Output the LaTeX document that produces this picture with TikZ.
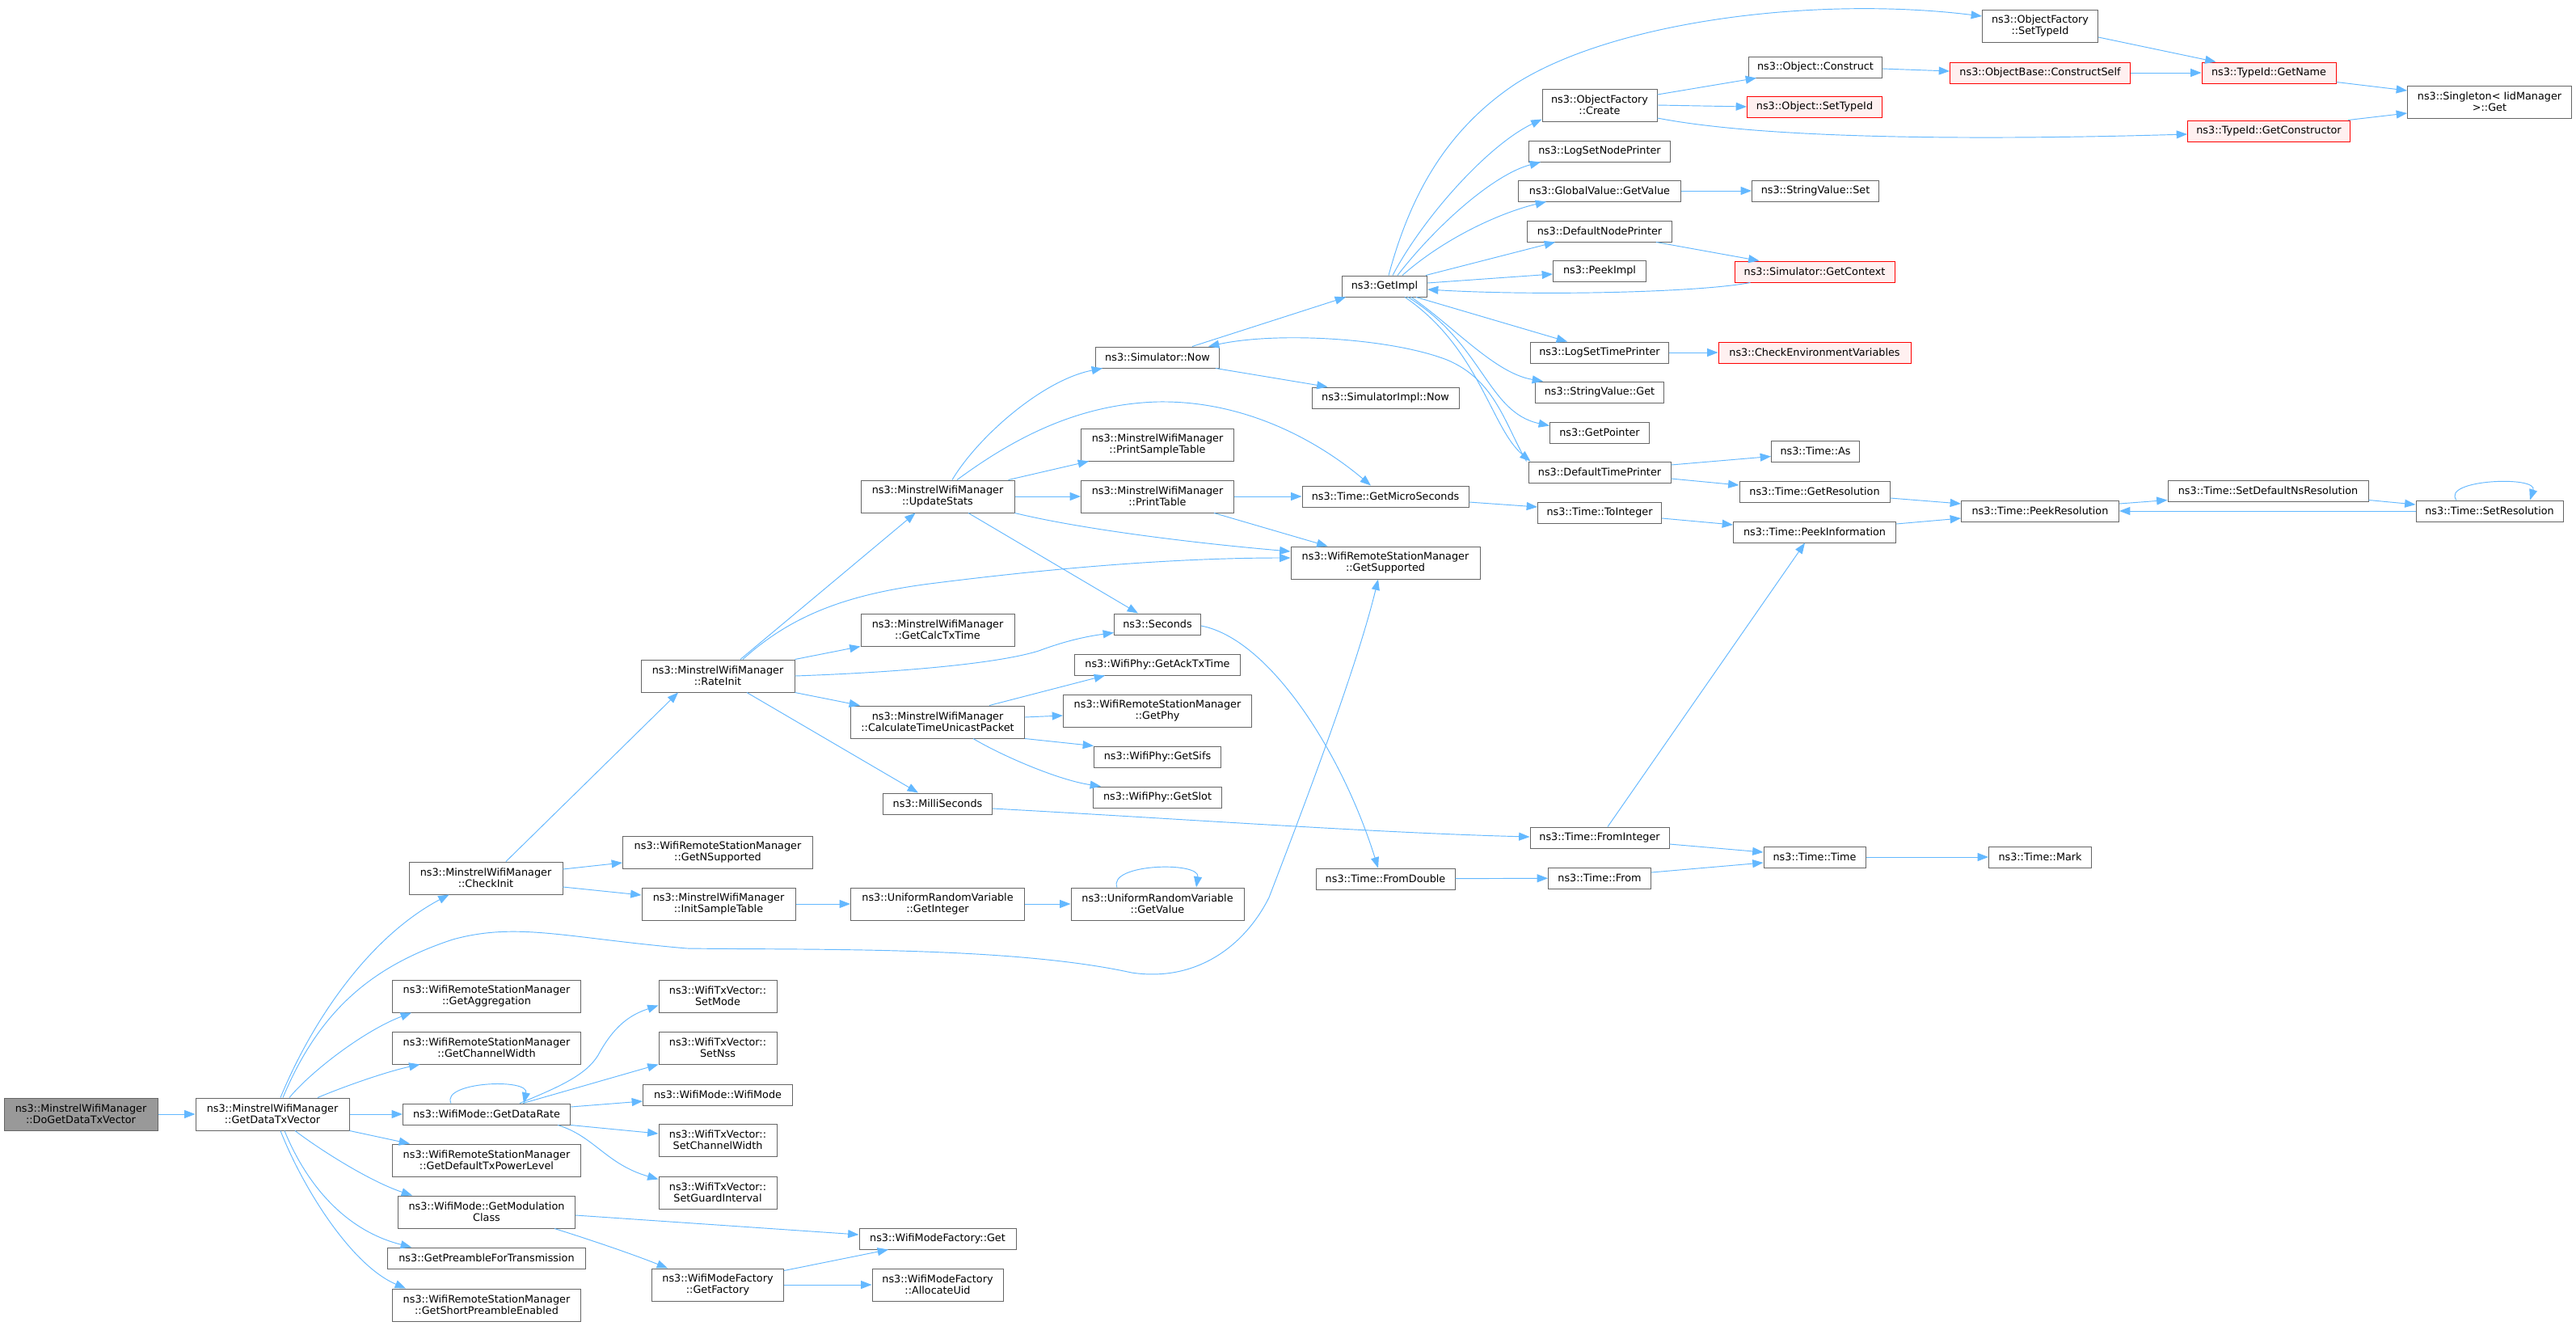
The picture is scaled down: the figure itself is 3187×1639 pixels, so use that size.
\documentclass[tikz,border=0pt]{standalone}
\usepackage{fontspec}
\newfontfamily\nodefont{DejaVu Sans}
\usetikzlibrary{arrows.meta,calc}
\definecolor{edgecol}{HTML}{63B8FF}
\definecolor{nodeborder}{HTML}{666666}
\definecolor{rootfill}{HTML}{999999}
\definecolor{redfill}{HTML}{FFF0F0}
\definecolor{redborder}{HTML}{FF0000}
\newcommand\nf{\nodefont\fontsize{9.6pt}{10.5pt}\selectfont}
\begin{document}
\begin{tikzpicture}[x=0.75pt,y=-0.75pt,
  nd/.style={draw=nodeborder, fill=white, line width=0.75pt, inner sep=0pt, align=center, font=\nf},
  rootnd/.style={nd, fill=rootfill},
  rednd/.style={nd, draw=redborder, fill=redfill},
  sz/.style 2 args={minimum width=#1*0.75pt, minimum height=#2*0.75pt},
  edge/.style={draw=edgecol, line width=0.7pt, -{Triangle[length=10pt,width=7.5pt]}}]
\fill[white] (0,0) rectangle (3187,1639);
\useasboundingbox (0,0) rectangle (3187,1639);
% column 1-2
\node[rootnd, sz={190}{40}] (nroot) at (100,1378) {ns3::MinstrelWifiManager\\::DoGetDataTxVector};
\node[nd, sz={190}{40}] (ngdtv) at (337,1378) {ns3::MinstrelWifiManager\\::GetDataTxVector};
% column 3
\node[nd, sz={190}{40}] (ncheck) at (601,1086) {ns3::MinstrelWifiManager\\::CheckInit};
\node[nd, sz={233}{40}] (nagg) at (602,1232) {ns3::WifiRemoteStationManager\\::GetAggregation};
\node[nd, sz={233}{40}] (ncw) at (602,1296) {ns3::WifiRemoteStationManager\\::GetChannelWidth};
\node[nd, sz={207}{26}] (ndr) at (602,1378) {ns3::WifiMode::GetDataRate};
\node[nd, sz={233}{40}] (ndtx) at (602,1435) {ns3::WifiRemoteStationManager\\::GetDefaultTxPowerLevel};
\node[nd, sz={219}{40}] (nmod) at (602,1499) {ns3::WifiMode::GetModulation\\Class};
\node[nd, sz={245}{26}] (npre) at (602,1556) {ns3::GetPreambleForTransmission};
\node[nd, sz={233}{40}] (nsp) at (602,1614) {ns3::WifiRemoteStationManager\\::GetShortPreambleEnabled};
% column 4
\node[nd, sz={190}{40}] (nrate) at (888,836) {ns3::MinstrelWifiManager\\::RateInit};
\node[nd, sz={235}{40}] (nnsup) at (888,1054) {ns3::WifiRemoteStationManager\\::GetNSupported};
\node[nd, sz={190}{40}] (nist) at (889,1118) {ns3::MinstrelWifiManager\\::InitSampleTable};
\node[nd, sz={146}{40}] (nsetmode) at (888,1232) {ns3::WifiTxVector::\\SetMode};
\node[nd, sz={146}{40}] (nsetnss) at (888,1296) {ns3::WifiTxVector::\\SetNss};
\node[nd, sz={185}{26}] (nwm) at (888,1354) {ns3::WifiMode::WifiMode};
\node[nd, sz={146}{40}] (nsetcw) at (888,1410) {ns3::WifiTxVector::\\SetChannelWidth};
\node[nd, sz={146}{40}] (nsetgi) at (888,1475) {ns3::WifiTxVector::\\SetGuardInterval};
\node[nd, sz={163}{40}] (nfact) at (888,1589) {ns3::WifiModeFactory\\::GetFactory};
% column 5
\node[nd, sz={190}{40}] (nus) at (1160,614) {ns3::MinstrelWifiManager\\::UpdateStats};
\node[nd, sz={190}{40}] (ncalc) at (1160,779) {ns3::MinstrelWifiManager\\::GetCalcTxTime};
\node[nd, sz={215}{40}] (nctu) at (1160,893) {ns3::MinstrelWifiManager\\::CalculateTimeUnicastPacket};
\node[nd, sz={135}{26}] (nmilli) at (1160,994) {ns3::MilliSeconds};
\node[nd, sz={215}{40}] (ngint) at (1160,1118) {ns3::UniformRandomVariable\\::GetInteger};
\node[nd, sz={194}{26}] (nwmfget) at (1160,1532) {ns3::WifiModeFactory::Get};
\node[nd, sz={162}{40}] (nalloc) at (1160,1589) {ns3::WifiModeFactory\\::AllocateUid};
% column 6
\node[nd, sz={153}{26}] (nnow) at (1432,442) {ns3::Simulator::Now};
\node[nd, sz={189}{40}] (npst) at (1432,550) {ns3::MinstrelWifiManager\\::PrintSampleTable};
\node[nd, sz={189}{40}] (npt) at (1432,614) {ns3::MinstrelWifiManager\\::PrintTable};
\node[nd, sz={107}{26}] (nsec) at (1432,772) {ns3::Seconds};
\node[nd, sz={205}{26}] (nack) at (1432,822) {ns3::WifiPhy::GetAckTxTime};
\node[nd, sz={233}{40}] (nphy) at (1432,879) {ns3::WifiRemoteStationManager\\::GetPhy};
\node[nd, sz={157}{26}] (nsifs) at (1432,936) {ns3::WifiPhy::GetSifs};
\node[nd, sz={159}{26}] (nslot) at (1432,986) {ns3::WifiPhy::GetSlot};
\node[nd, sz={214}{40}] (ngval) at (1432,1118) {ns3::UniformRandomVariable\\::GetValue};
% column 7
\node[nd, sz={105}{26}] (ngimpl) at (1713,354) {ns3::GetImpl};
\node[nd, sz={182}{26}] (nsimpl) at (1714,492) {ns3::SimulatorImpl::Now};
\node[nd, sz={206}{26}] (ngmicro) at (1714,614) {ns3::Time::GetMicroSeconds};
\node[nd, sz={234}{40}] (ngsup) at (1714,696) {ns3::WifiRemoteStationManager\\::GetSupported};
\node[nd, sz={172}{26}] (nfdbl) at (1714,1087) {ns3::Time::FromDouble};
% column 8
\node[nd, sz={142}{40}] (nofc) at (1979,130) {ns3::ObjectFactory\\::Create};
\node[nd, sz={175}{26}] (nlsnp) at (1979,187) {ns3::LogSetNodePrinter};
\node[nd, sz={201}{26}] (ngvgv) at (1979,236) {ns3::GlobalValue::GetValue};
\node[nd, sz={179}{26}] (ndnp) at (1979,286) {ns3::DefaultNodePrinter};
\node[nd, sz={115}{26}] (npeek) at (1979,335) {ns3::PeekImpl};
\node[nd, sz={171}{26}] (nlstp) at (1979,436) {ns3::LogSetTimePrinter};
\node[nd, sz={159}{26}] (nsvget) at (1979,485) {ns3::StringValue::Get};
\node[nd, sz={123}{26}] (ngptr) at (1979,535) {ns3::GetPointer};
\node[nd, sz={176}{26}] (ndtp) at (1979,584) {ns3::DefaultTimePrinter};
\node[nd, sz={153}{26}] (ntoint) at (1979,634) {ns3::Time::ToInteger};
\node[nd, sz={172}{26}] (nfint) at (1979,1036) {ns3::Time::FromInteger};
\node[nd, sz={127}{26}] (nfrom) at (1979,1086) {ns3::Time::From};
% column 9
\node[nd, sz={165}{26}] (noc) at (2246,83) {ns3::Object::Construct};
\node[rednd, sz={167}{26}] (nost) at (2245,132) {ns3::Object::SetTypeId};
\node[nd, sz={157}{26}] (nsvset) at (2246,236) {ns3::StringValue::Set};
\node[rednd, sz={198}{26}] (ngctx) at (2245,336) {ns3::Simulator::GetContext};
\node[rednd, sz={238}{26}] (ncev) at (2245,436) {ns3::CheckEnvironmentVariables};
\node[nd, sz={109}{26}] (nas) at (2246,558) {ns3::Time::As};
\node[nd, sz={186}{26}] (ngres) at (2245,608) {ns3::Time::GetResolution};
\node[nd, sz={201}{26}] (npinfo) at (2245,658) {ns3::Time::PeekInformation};
\node[nd, sz={126}{26}] (ntime) at (2245,1060) {ns3::Time::Time};
% column 10
\node[nd, sz={143}{40}] (nofst) at (2524,32) {ns3::ObjectFactory\\::SetTypeId};
\node[rednd, sz={223}{26}] (ncself) at (2524,90) {ns3::ObjectBase::ConstructSelf};
\node[nd, sz={195}{26}] (npres) at (2524,632) {ns3::Time::PeekResolution};
\node[nd, sz={127}{26}] (nmark) at (2524,1060) {ns3::Time::Mark};
% column 11
\node[rednd, sz={166}{26}] (ngname) at (2807,90) {ns3::TypeId::GetName};
\node[rednd, sz={201}{26}] (ngctor) at (2807,162) {ns3::TypeId::GetConstructor};
\node[nd, sz={248}{26}] (nsdns) at (2806,607) {ns3::Time::SetDefaultNsResolution};
% column 12
\node[nd, sz={203}{40}] (nsingle) at (3080,126) {ns3::Singleton< IidManager\\>::Get};
\node[nd, sz={182}{26}] (nsres) at (3080,632) {ns3::Time::SetResolution};

% ---------- edges ----------
\draw[edge] (nroot) -- (ngdtv);
\draw[edge] ($(ngdtv.north)+(10,0)$) .. controls (385,1265) and (455,1160) .. ($(ncheck.south west)+(50,0)$);
\draw[edge] ($(ngdtv.north)+(13,0)$) .. controls (395,1250) and (460,1195) .. (560,1162) .. controls (640,1140) and (700,1160) .. (850,1173) .. controls (1000,1175) and (1250,1170) .. (1400,1203) .. controls (1480,1215) and (1540,1170) .. (1570,1110) .. controls (1620,980) and (1680,820) .. ($(ngsup.south)+(-9,0)$);
\draw[edge] ($(ngdtv.north)+(21,0)$) .. controls (385,1325) and (450,1275) .. ($(nagg.south west)+(24,0)$);
\draw[edge] ($(ngdtv.north)+(56,0)$) .. controls (430,1342) and (480,1325) .. ($(ncw.south west)+(34.5,0)$);
\draw[edge] (ngdtv) -- (ndr);
\draw[edge] (ngdtv.south east) -- ($(ndtx.north west)+(22,0)$);
\draw[edge] ($(ngdtv.south)+(28,0)$) .. controls (400,1425) and (460,1462) .. ($(nmod.north west)+(18,0)$);
\draw[edge] ($(ngdtv.south)+(15,0)$) .. controls (375,1455) and (420,1520) .. ($(npre.north west)+(30,0)$);
\draw[edge] ($(ngdtv.south)+(10,0)$) .. controls (375,1470) and (435,1565) .. ($(nsp.north west)+(17,0)$);

\draw[edge] ($(ncheck.north)+(25,0)$) -- ($(nrate.south)+(-49,0)$);
\draw[edge] ($(ncheck.east)+(0,-11)$) -- ($(nnsup.west)+(0,13)$);
\draw[edge] ($(ncheck.east)+(0,11)$) -- ($(nist.west)+(0,-11)$);

\draw[edge] ($(nrate.north)+(28,0)$) -- ($(nus.south west)+(68,0)$);
\draw[edge] ($(nrate.north)+(31,0)$) .. controls (980,760) and (1050,735) .. (1150,722) .. controls (1300,703) and (1450,690) .. ($(ngsup.west)+(0,-6)$);
\draw[edge] (nrate.north east) -- (ncalc.south west);
\draw[edge] (nrate.east) .. controls (1100,832) and (1230,822) .. (1285,805) .. controls (1320,792) and (1345,787) .. ($(nsec.south west)+(0,-3)$);
\draw[edge] (nrate.south east) -- ($(nctu.north west)+(12,0)$);
\draw[edge] ($(nrate.south)+(36,0)$) -- ($(nmilli.north)+(-24,0)$);

\draw[edge] ($(nus.north)+(18,0)$) .. controls (1210,540) and (1290,470) .. ($(nnow.south west)+(9,0)$);
\draw[edge] ($(nus.north)+(24,0)$) .. controls (1250,545) and (1330,500) .. (1432,497) .. controls (1540,495) and (1630,545) .. ($(ngmicro.north)+(-18,0)$);
\draw[edge] ($(nus.north east)+(-8,0)$) -- ($(npst.south west)+(10,0)$);
\draw[edge] (nus) -- (npt);
\draw[edge] (nus.south east) .. controls (1340,655) and (1480,672) .. ($(ngsup.west)+(0,-14)$);
\draw[edge] ($(nus.south)+(38,0)$) -- ($(nsec.north)+(-24,0)$);
\draw[edge] (npt) -- (ngmicro);
\draw[edge] ($(npt.south east)+(-25,0)$) -- ($(ngsup.north west)+(46,0)$);

\draw[edge] ($(nctu.north)+(64,0)$) -- ($(nack.south west)+(38,0)$);
\draw[edge] ($(nctu.east)+(0,-6)$) -- ($(nphy.west)+(0,6)$);
\draw[edge] (nctu.south east) -- (nsifs.north west);
\draw[edge] ($(nctu.south)+(44,0)$) .. controls (1240,935) and (1310,965) .. ($(nslot.north west)+(10,0)$);
\draw[edge] ($(nmilli.east)+(0,6)$) .. controls (1450,1012) and (1700,1030) .. ($(nfint.west)+(0,-1)$);
\draw[edge] (nist) -- (ngint);
\draw[edge] (ngint) -- (ngval);
\draw[edge] ($(ngval.north)+(-50,0)$) .. controls (1370,1068) and (1485,1065) .. ($(ngval.north)+(48,0)$);

\draw[edge] ($(ndr.north)+(-44,0)$) .. controls (545,1338) and (655,1333) .. ($(ndr.north)+(46,0)$);
\draw[edge] ($(ndr.north)+(41,0)$) .. controls (690,1345) and (725,1330) .. (740,1305) .. controls (760,1268) and (780,1255) .. ($(nsetmode.south west)+(0,-9)$);
\draw[edge] ($(ndr.north)+(45,0)$) -- (nsetnss.south west);
\draw[edge] ($(ndr.east)+(0,-9)$) -- ($(nwm.west)+(0,8)$);
\draw[edge] (ndr.south east) -- ($(nsetcw.west)+(0,-8)$);
\draw[edge] ($(ndr.south)+(88,0)$) .. controls (735,1405) and (750,1440) .. ($(nsetgi.north west)+(0,4)$);
\draw[edge] ($(nmod.east)+(0,4)$) -- ($(nwmfget.west)+(0,-5)$);
\draw[edge] ($(nmod.south)+(84,0)$) .. controls (720,1530) and (780,1550) .. ($(nfact.north west)+(20,0)$);
\draw[edge] ($(nfact.north east)+(0,3)$) -- ($(nwmfget.south)+(-61,0)$);
\draw[edge] (nfact) -- (nalloc);

\draw[edge] ($(nsec.east)+(0,2)$) .. controls (1570,790) and (1660,930) .. ($(nfdbl.north)+(-9,0)$);
\draw[edge] ($(nnow.north)+(43,0)$) -- ($(ngimpl.south west)+(5,0)$);
\draw[edge] ($(nnow.south east)+(-5,0)$) -- ($(nsimpl.north west)+(20,0)$);
\draw[edge] ($(ndtp.north west)+(-2,0)$) .. controls (1862,525) and (1850,470) .. (1790,445) .. controls (1720,418) and (1580,410) .. ($(nnow.north east)+(-14,0)$);

\draw[edge] ($(ngimpl.north)+(5,0)$) .. controls (1745,240) and (1790,160) .. (1876,103) .. controls (2000,25) and (2250,-5) .. ($(nofst.west)+(0,-12)$);
\draw[edge] ($(ngimpl.north)+(10,0)$) .. controls (1760,270) and (1840,180) .. ($(nofc.south west)+(0,-3)$);
\draw[edge] ($(ngimpl.north)+(16,0)$) .. controls (1780,275) and (1850,215) .. ($(nlsnp.south west)+(15,0)$);
\draw[edge] ($(ngimpl.north)+(22,0)$) .. controls (1790,292) and (1860,262) .. ($(ngvgv.south west)+(35,0)$);
\draw[edge] ($(ngimpl.north east)+(-2,0)$) -- ($(ndnp.south west)+(35,0)$);
\draw[edge] ($(ngimpl.east)+(0,-4)$) -- ($(npeek.west)+(0,4)$);
\draw[edge] ($(ngctx.south west)+(20,0)$) .. controls (2100,362) and (1900,366) .. ($(ngimpl.east)+(0,4)$);
\draw[edge] ($(ngimpl.south)+(39,0)$) -- ($(nlstp.north west)+(46,0)$);
\draw[edge] ($(ngimpl.south)+(33,0)$) .. controls (1800,405) and (1850,462) .. ($(nsvget.north west)+(10,0)$);
\draw[edge] ($(ngimpl.south)+(29,0)$) .. controls (1835,425) and (1840,510) .. ($(ngptr.north west)+(0,5)$);
\draw[edge] ($(ngimpl.south)+(25,0)$) .. controls (1830,430) and (1845,530) .. ($(ndtp.north west)+(3,0)$);

\draw[edge] ($(nofc.east)+(0,-13)$) -- ($(noc.south west)+(10,0)$);
\draw[edge] (nofc.east) -- (nost.west);
\draw[edge] ($(nofc.east)+(0,16)$) .. controls (2200,175) and (2500,172) .. ($(ngctor.west)+(0,4)$);
\draw[edge] ($(noc.east)+(0,2)$) -- ($(ncself.west)+(0,-2)$);
\draw[edge] (ncself) -- (ngname);
\draw[edge] ($(nofst.east)+(0,14)$) -- ($(ngname.north west)+(18,0)$);
\draw[edge] ($(ngname.south east)+(0,-2)$) -- ($(nsingle.west)+(0,-14)$);
\draw[edge] ($(ngctor.north east)+(-3,0)$) -- ($(nsingle.west)+(0,14)$);
\draw[edge] (ngvgv) -- (nsvset);
\draw[edge] ($(ndnp.south east)+(-20,0)$) -- ($(ngctx.north west)+(31,0)$);
\draw[edge] (nlstp) -- (ncev);
\draw[edge] ($(ndtp.east)+(0,-9)$) -- ($(nas.south west)+(0,-7)$);
\draw[edge] ($(ndtp.east)+(0,8)$) -- ($(ngres.west)+(0,-8)$);
\draw[edge] ($(ngres.east)+(0,8)$) -- ($(npres.west)+(0,-9)$);
\draw[edge] ($(ngmicro.east)+(0,7)$) -- ($(ntoint.west)+(0,-7)$);
\draw[edge] ($(ntoint.east)+(0,7)$) -- ($(npinfo.west)+(0,-9)$);
\draw[edge] ($(npinfo.east)+(0,-10)$) -- ($(npres.west)+(0,9)$);
\draw[edge] ($(npres.east)+(0,-9)$) -- ($(nsdns.south west)+(0,-2)$);
\draw[edge] ($(nsdns.south east)+(0,-2)$) -- ($(nsres.west)+(0,-8)$);
\draw[edge] (nsres) -- (npres);
\draw[edge] ($(nsres.north)+(-41,0)$) .. controls (3020,593) and (3140,588) .. ($(nsres.north)+(50,0)$);
\draw[edge] ($(nfint.north)+(10,0)$) -- ($(npinfo.south)+(-12,0)$);
\draw[edge] ($(nfint.east)+(0,8)$) -- ($(ntime.west)+(0,-6)$);
\draw[edge] (nfdbl) -- (nfrom);
\draw[edge] ($(nfrom.east)+(0,-7)$) -- ($(ntime.west)+(0,7)$);
\draw[edge] (ntime) -- (nmark);
\end{tikzpicture}
\end{document}
